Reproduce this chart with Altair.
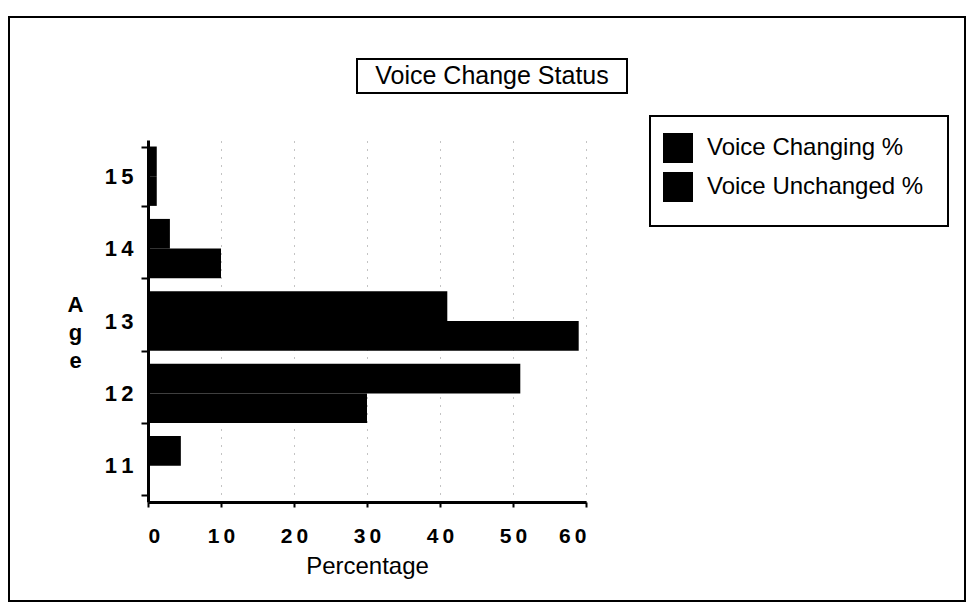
import altair as alt
import pandas as pd

ages = ["15", "14", "13", "12", "11"]
series = ["Voice Changing %", "Voice Unchanged %"]
changing = [1.2, 3, 41, 51, 4.5]
unchanged = [1.2, 10, 59, 30, 0]
x_ticks = [0, 10, 20, 30, 40, 50, 60]
chart_title = "Voice Change Status"

rows = []
for a, c, u in zip(ages, changing, unchanged):
    rows.append({"Age": a, "Series": series[0], "Percentage": c})
    rows.append({"Age": a, "Series": series[1], "Percentage": u})
df = pd.DataFrame(rows)
one = pd.DataFrame({"k": [0]})

FONT = "Liberation Sans"
W, H = 438, 362
SP = "\u2009"

bars = alt.Chart(df).mark_bar().encode(
    x=alt.X(
        "Percentage:Q",
        scale=alt.Scale(domain=[0, 60], nice=False),
        axis=alt.Axis(
            values=x_ticks,
            title="Percentage",
            labelExpr="join(split(datum.label, ''), '" + SP + "')",
            labelFont=FONT, labelFontSize=21, labelFontWeight="bold", labelColor="black",
            labelPadding=18,
            domainColor="black", domainWidth=3,
            tickColor="black", tickSize=5, tickWidth=2,
            grid=True, gridDash=[1, 7], gridColor="#888", gridWidth=1,
            titleFont=FONT, titleFontSize=24, titleFontWeight="normal", titleColor="black",
            titleY=52, titleBaseline="top",
        ),
    ),
    y=alt.Y(
        "Age:N",
        sort=ages,
        scale=alt.Scale(paddingInner=0.18, paddingOuter=0.09),
        axis=alt.Axis(
            title=["A", "g", "e"],
            titleAngle=0, titleX=-73, titleY=154, titleAlign="center", titleBaseline="top",
            titleFont=FONT, titleFontSize=22, titleFontWeight="bold", titleColor="black",
            titleLineHeight=28,
            labelExpr="join(split(datum.label, ''), '" + SP + "')",
            labelFont=FONT, labelFontSize=22, labelFontWeight="bold", labelColor="black",
            labelPadding=8,
            domainColor="black", domainWidth=3,
            tickBand="extent", tickColor="black", tickSize=7, tickWidth=2,
            grid=False,
        ),
    ),
    yOffset=alt.YOffset("Series:N", sort=series),
    color=alt.Color(
        "Series:N",
        scale=alt.Scale(domain=series, range=["black", "black"]),
        legend=alt.Legend(
            title=None, orient="none", legendX=515, legendY=-7, padding=0,
            symbolType="square", symbolSize=900, symbolStrokeWidth=0,
            labelFont=FONT, labelFontSize=24, labelColor="black", labelOffset=14,
            rowPadding=9, labelLimit=400,
        ),
    ),
)

def box(x1, x2, y1, y2):
    return alt.Chart(one).mark_rect(fill="transparent", stroke="black", strokeWidth=2).encode(
        x=alt.value(x1), x2=alt.value(x2), y=alt.value(y1), y2=alt.value(y2)
    )

frame = box(-139, 817, -123, 461)
title_box = box(209, 479, -81, -47)
legend_box = box(502, 800, -24, 86)

title_text = alt.Chart(one).mark_text(
    text=chart_title, font=FONT, fontSize=25, align="center", baseline="middle", color="black"
).encode(x=alt.value(344), y=alt.value(-64))

chart = alt.layer(bars, frame, title_box, legend_box, title_text).properties(
    width=W, height=H,
    autosize=alt.AutoSizeParams(type="none"),
    padding={"left": 140, "top": 132, "right": 380, "bottom": 101},
    background="white",
).configure_view(strokeWidth=0)

chart.save("out.html", embed_options={"renderer": "svg", "actions": False})
